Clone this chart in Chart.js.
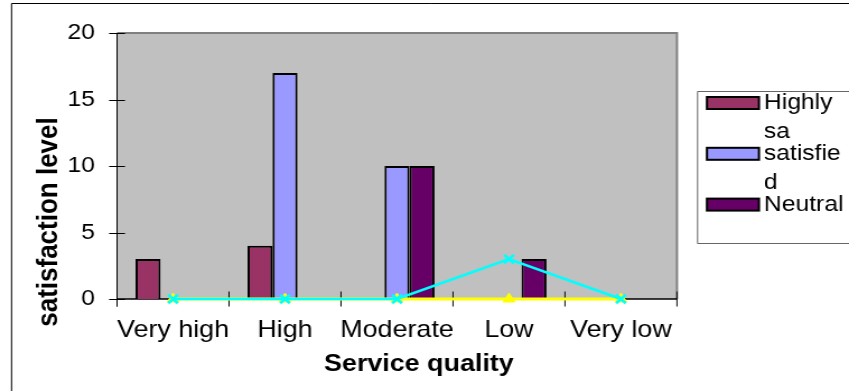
<!DOCTYPE html>
<html>
<head>
<meta charset="utf-8">
<script src="https://cdn.jsdelivr.net/npm/chart.js@4.4.1/dist/chart.umd.min.js"></script>
<style>
  html, body { margin: 0; padding: 0; background: #fff; overflow: hidden; }
  canvas { display: block; }
</style>
</head>
<body>
<canvas id="chart" width="758" height="391" style="width:849px;height:391px"></canvas>
<script>
// Satisfaction counts by service quality rating
const categories = ['Very high', 'High', 'Moderate', 'Low', 'Very low'];
const highlySatisfied = [3, 4, 0, 0, 0];
const satisfied = [0, 17, 10, 0, 0];
const neutral = [0, 0, 10, 3, 0];
const dissatisfied = [0, 0, 0, 0, 0];
const highlyDissatisfied = [0, 0, 0, 3, 0];
const yTicks = [0, 5, 10, 15, 20];

const FONT = "'Liberation Sans', Arial, Helvetica, sans-serif";
const PLOT_BG = '#C0C0C0';

// Frame, plot background, axes and cross tick marks
const framePlugin = {
  id: 'frame',
  beforeDraw(chart) {
    const { ctx, chartArea: a, width, height } = chart;
    ctx.save();
    ctx.fillStyle = '#fff';
    ctx.fillRect(0, 0, width, height);
    ctx.strokeStyle = '#000';
    ctx.lineWidth = 1;
    ctx.beginPath();
    ctx.moveTo(10.3, height);
    ctx.lineTo(10.3, 3.5);
    ctx.lineTo(width, 3.5);
    ctx.stroke();
    ctx.fillStyle = PLOT_BG;
    ctx.fillRect(a.left, a.top, a.right - a.left, a.bottom - a.top);
    ctx.restore();
  },
  beforeDatasetsDraw(chart) {
    const { ctx, chartArea: a, scales: { x, y } } = chart;
    ctx.save();
    ctx.strokeStyle = '#808080';
    ctx.lineWidth = 2;
    ctx.beginPath();
    ctx.moveTo(a.left, a.top);
    ctx.lineTo(a.right, a.top);
    ctx.lineTo(a.right, a.bottom);
    ctx.stroke();

    ctx.strokeStyle = '#000';
    ctx.lineWidth = 1;
    ctx.beginPath();
    ctx.moveTo(a.left, a.top);
    ctx.lineTo(a.left, a.bottom + 7.5);
    ctx.stroke();
    ctx.lineWidth = 1.5;
    ctx.beginPath();
    ctx.moveTo(a.left, a.bottom);
    ctx.lineTo(a.right, a.bottom);
    ctx.stroke();

    ctx.lineWidth = 1;
    y.ticks.forEach(t => {
      const py = Math.round(y.getPixelForValue(t.value)) + 0.5;
      ctx.beginPath();
      ctx.moveTo(a.left - 7.1, py);
      ctx.lineTo(a.left + 7.1, py);
      ctx.stroke();
    });
    const step = x.getPixelForValue(1) - x.getPixelForValue(0);
    for (let i = 0; i <= categories.length; i++) {
      const px = x.getPixelForValue(0) - step / 2 + i * step;
      ctx.beginPath();
      ctx.moveTo(px, a.bottom - 7.5);
      ctx.lineTo(px, a.bottom + 7.5);
      ctx.stroke();
    }
    ctx.restore();
  },
  afterDraw(chart) {
    const { ctx } = chart;
    ctx.save();
    ctx.fillStyle = '#000';
    ctx.font = `bold 24px ${FONT}`;
    ctx.textAlign = 'center';
    ctx.textBaseline = 'middle';
    ctx.fillText('Service quality', 374, 364);

    ctx.translate(44, 222);
    ctx.rotate(-Math.PI / 2);
    ctx.font = `bold 26px ${FONT}`;
    ctx.fillText('satisfaction level', 0, 0);
    ctx.restore();
  }
};

// Legend box listing the bar series, with wrapped names
const legendPlugin = {
  id: 'boxLegend',
  afterDraw(chart) {
    const { ctx, width } = chart;
    const left = 622.3;
    ctx.save();
    ctx.strokeStyle = '#666';
    ctx.lineWidth = 1;
    ctx.beginPath();
    ctx.moveTo(width, 91.5);
    ctx.lineTo(left + 0.5, 91.5);
    ctx.lineTo(left + 0.5, 243.5);
    ctx.lineTo(width, 243.5);
    ctx.stroke();

    ctx.font = `22px ${FONT}`;
    ctx.textAlign = 'left';
    ctx.textBaseline = 'alphabetic';
    const maxW = 74;
    const wrap = (text) => {
      const lines = [];
      let cur = '';
      text.split(' ').forEach(word => {
        const trial = cur ? cur + ' ' + word : word;
        if (ctx.measureText(trial).width <= maxW) { cur = trial; return; }
        if (cur) lines.push(cur);
        cur = '';
        for (const ch of word) {
          if (ctx.measureText(cur + ch).width > maxW && cur) { lines.push(cur); cur = ch; }
          else cur += ch;
        }
      });
      if (cur) lines.push(cur);
      return lines;
    };

    const bars = chart.data.datasets.filter(d => (d.type || 'bar') === 'bar');
    bars.forEach((d, i) => {
      const top = 97 + i * 50.8;
      ctx.fillStyle = d.backgroundColor;
      ctx.fillRect(631.2, top, 46.4, 12);
      ctx.strokeStyle = '#000';
      ctx.lineWidth = 2;
      ctx.strokeRect(631.2, top, 46.4, 12);
      ctx.fillStyle = '#000';
      wrap(d.label).forEach((line, j) => {
        ctx.fillText(line, 682.1, top + 12 + j * 29);
      });
    });
    ctx.restore();
  }
};

const barStyle = { borderColor: '#000', borderWidth: 2, borderSkipped: 'start', order: 3 };

new Chart(document.getElementById('chart'), {
  type: 'bar',
  data: {
    labels: categories,
    datasets: [
      { label: 'Highly sa', data: highlySatisfied, backgroundColor: '#993366', ...barStyle },
      { label: 'satisfied', data: satisfied, backgroundColor: '#9999FF', ...barStyle },
      { label: 'Neutral', data: neutral, backgroundColor: '#660066', ...barStyle },
      {
        type: 'line', label: 'dissatisfied', data: dissatisfied, order: 2,
        borderColor: '#FFFF00', borderWidth: 3, tension: 0, clip: false,
        pointStyle: 'triangle', pointRadius: 6, pointBackgroundColor: '#FFFF00',
        pointBorderColor: '#FFFF00', pointBorderWidth: 1
      },
      {
        type: 'line', label: 'Highly dissatisfied', data: highlyDissatisfied, order: 1,
        borderColor: '#00FFFF', borderWidth: 2.5, tension: 0, clip: false,
        pointStyle: 'crossRot', pointRadius: 6, pointBorderColor: '#00FFFF',
        pointBorderWidth: 2.5, pointBackgroundColor: '#00FFFF'
      }
    ]
  },
  options: {
    responsive: false,
    animation: false,
    devicePixelRatio: 1,
    layout: { padding: { left: 0, right: 153.6, top: 33, bottom: 0 } },
    datasets: { bar: { categoryPercentage: 0.67, barPercentage: 1.0 } },
    plugins: { legend: { display: false }, tooltip: { enabled: false } },
    scales: {
      x: {
        grid: { display: false, drawTicks: false },
        border: { display: false },
        ticks: {
          color: '#000', font: { family: FONT, size: 24 }, padding: 17,
          maxRotation: 0, minRotation: 0, autoSkip: false
        },
        afterFit(scale) { scale.height = 92; }
      },
      y: {
        min: 0, max: 20,
        grid: { display: false, drawTicks: false },
        border: { display: false },
        afterBuildTicks(scale) { scale.ticks = yTicks.map(v => ({ value: v })); },
        ticks: { color: '#000', font: { family: FONT, size: 22 }, padding: 19.7 },
        afterFit(scale) { scale.width = 104.5; }
      }
    }
  },
  plugins: [framePlugin, legendPlugin]
});
</script>
</body>
</html>
